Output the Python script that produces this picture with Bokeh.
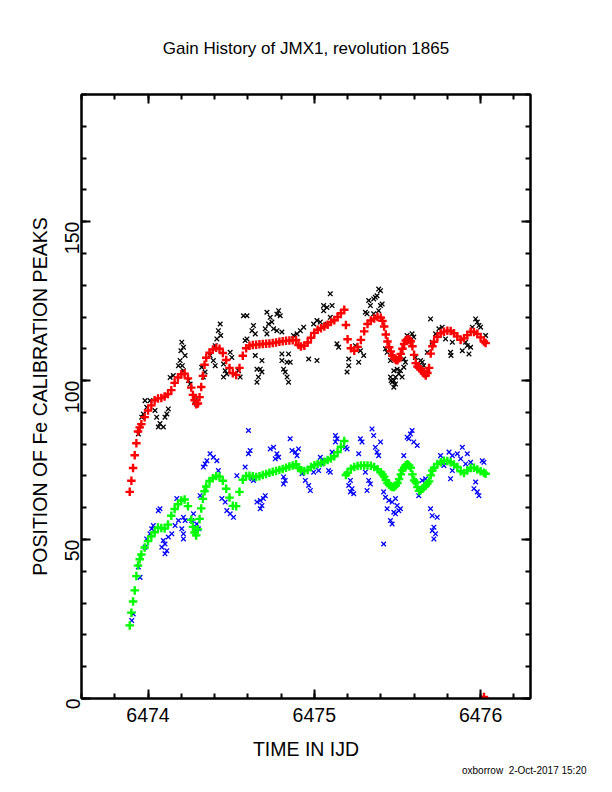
import math
from bokeh.plotting import figure
from bokeh.models import Range1d, LinearAxis, SingleIntervalTicker, Title, CustomJSTickFormatter
from bokeh.embed import file_html
from bokeh.resources import INLINE

# ---------------- data ----------------
title_text = "Gain History of JMX1, revolution 1865"
x_label = "TIME IN IJD"
y_label = "POSITION OF Fe CALIBRATION PEAKS"
footer_text = "oxborrow\u00a0\u00a02-Oct-2017 15:20"

fit_t = [6473.89, 6473.90, 6473.91, 6473.92, 6473.93, 6473.94, 6473.95, 6473.96, 6473.98,
         6474.00, 6474.02, 6474.04, 6474.06, 6474.08, 6474.10, 6474.12, 6474.14, 6474.16,
         6474.18, 6474.20, 6474.22, 6474.24, 6474.26,
         6474.27, 6474.28, 6474.29, 6474.30, 6474.31, 6474.32, 6474.33, 6474.34, 6474.35,
         6474.37, 6474.39, 6474.41, 6474.43, 6474.45, 6474.47, 6474.49, 6474.51, 6474.53,
         6474.55, 6474.57, 6474.59,
         6474.61, 6474.63, 6474.65, 6474.67, 6474.69, 6474.71, 6474.73, 6474.75, 6474.77,
         6474.79, 6474.81, 6474.83, 6474.85, 6474.87, 6474.89,
         6474.905, 6474.92, 6474.94, 6474.96, 6474.98,
         6475.00, 6475.02, 6475.04, 6475.06, 6475.08, 6475.10, 6475.12, 6475.14, 6475.16, 6475.18,
         6475.19, 6475.20, 6475.22, 6475.24, 6475.26, 6475.28, 6475.30, 6475.32, 6475.34,
         6475.36, 6475.38, 6475.40,
         6475.41, 6475.42, 6475.43, 6475.44, 6475.45, 6475.46, 6475.47, 6475.48, 6475.49,
         6475.50, 6475.51, 6475.52, 6475.53, 6475.54, 6475.55, 6475.56, 6475.57, 6475.58,
         6475.59, 6475.60, 6475.61, 6475.62, 6475.63, 6475.64, 6475.65, 6475.66, 6475.67,
         6475.68, 6475.69, 6475.70, 6475.71, 6475.72,
         6475.74, 6475.76, 6475.78, 6475.80, 6475.82, 6475.84, 6475.86, 6475.88, 6475.90,
         6475.92, 6475.94, 6475.96, 6475.98, 6476.00, 6476.02, 6476.03]

fit_hi = [65.0, 68.5, 72.5, 76.5, 80.3, 84.0, 85.3, 86.3, 88.5,
          90.6, 92.2, 93.8, 94.4, 94.5, 95.0, 95.8, 97.0, 99.3, 101.0, 102.0, 102.2, 100.7, 97.8,
          95.5, 93.8, 92.6, 92.8, 94.8, 98.0, 101.5, 105.0, 107.2,
          108.8, 109.8, 110.3, 110.0, 108.7, 106.5, 104.0, 102.3, 101.8, 104.0, 107.8, 110.2,
          111.0, 111.2, 111.3, 111.4, 111.5, 111.6, 111.7, 111.8, 112.0, 112.2, 112.4, 112.5,
          112.6, 112.7, 112.8,
          111.2, 110.7, 111.0, 112.0, 113.5,
          115.0, 116.0, 116.5, 117.0, 117.6, 118.4, 119.0, 120.0, 121.2, 122.3,
          117.5, 113.0, 110.2, 109.4, 110.6, 112.8, 115.5, 117.8, 118.9, 119.5, 120.0, 119.8,
          118.8, 117.0, 114.5, 112.3, 110.5, 109.2, 107.8, 107.0, 106.5, 106.4, 107.0, 108.4,
          110.0, 111.5, 112.6, 113.0, 112.9, 112.4, 110.8, 108.1, 105.5, 104.4, 104.0, 103.6,
          103.0, 102.2, 101.6, 102.4, 104.0, 108.5, 110.8, 112.2,
          113.8, 114.9, 115.4, 115.7, 115.6, 114.9, 113.9, 112.8, 113.3, 114.3, 115.4, 115.3,
          114.7, 113.6, 112.3, 111.8]

fit_lo = [23.0, 27.0, 30.5, 34.0, 38.5, 41.8, 43.8, 45.3, 47.5,
          49.5, 51.0, 52.3, 53.8, 53.6, 53.5, 54.7, 57.5, 59.6, 61.1, 62.3, 62.6, 60.5, 56.2,
          54.0, 52.2, 51.3, 53.2, 56.5, 59.8, 62.8, 65.2, 66.7,
          68.4, 69.3, 70.0, 69.8, 68.5, 66.0, 63.2, 60.6, 60.5, 65.0, 68.8, 70.0,
          70.1, 69.9, 69.7, 69.9, 70.3, 70.6, 71.0, 71.3, 71.6, 71.9, 72.2, 72.6, 73.0, 73.3, 73.7,
          72.5, 71.8, 71.6, 71.9, 72.8,
          73.4, 73.8, 74.1, 74.5, 75.0, 75.5, 76.2, 77.5, 79.2, 81.0,
          70.3, 71.0, 72.3, 72.8, 73.1, 73.3, 73.3, 73.3, 73.2, 72.8, 72.1, 71.2,
          70.5, 69.8, 68.7, 67.8, 67.2, 66.8, 66.5, 66.5, 67.0, 67.8, 69.0, 70.5, 71.8, 72.6,
          73.4, 73.7, 73.3, 72.6, 70.5, 68.6, 68.0, 66.5, 65.3, 65.6, 66.0, 66.5, 67.0, 67.6,
          68.3, 70.2, 71.7, 72.6,
          73.8, 74.3, 74.8, 74.7, 74.3, 73.6, 72.8, 71.5, 70.9, 71.7, 72.5, 72.6, 72.0, 71.5,
          71.0, 70.7]

# stray upper-fit point near zero
fit_hi_stray = [(6476.02, 0.5)]

# raw upper peak (time, position)
raw_hi = [(6473.942, 83.2), (6473.982, 93.7), (6474.012, 93.7), (6473.992, 91.6), (6473.972, 89.5),
          (6473.962, 88.5), (6474.052, 88.5), (6474.072, 86.5), (6474.062, 85.4), (6474.092, 85.4),
          (6474.102, 88.5), (6474.113, 89.5), (6474.122, 91.1), (6474.042, 90.6), (6474.133, 101.0),
          (6474.152, 101.6), (6474.203, 112.1), (6474.213, 110.5), (6474.198, 109.4), (6474.223, 107.9),
          (6474.193, 106.3), (6474.183, 104.7), (6474.206, 104.7), (6474.213, 103.1), (6474.293, 92.6),
          (6474.283, 93.7), (6474.243, 100.0), (6474.253, 98.9), (6474.323, 104.2), (6474.343, 102.7),
          (6474.333, 101.1), (6474.434, 117.8), (6474.423, 115.7), (6474.414, 113.1), (6474.404, 111.0),
          (6474.437, 114.2), (6474.373, 107.9), (6474.393, 106.3), (6474.404, 104.7), (6474.454, 105.2),
          (6474.464, 103.1), (6474.474, 102.1), (6474.454, 101.1), (6474.494, 108.9), (6474.504, 107.3),
          (6474.544, 103.1), (6474.554, 101.1), (6474.574, 120.4), (6474.595, 120.4), (6474.634, 117.3),
          (6474.625, 115.7), (6474.645, 114.7), (6474.584, 112.6), (6474.595, 113.1), (6474.645, 107.9),
          (6474.685, 106.3), (6474.655, 103.6), (6474.675, 103.6), (6474.685, 102.7), (6474.664, 101.1),
          (6474.655, 99.5), (6474.715, 121.5), (6474.735, 119.9), (6474.725, 117.8), (6474.745, 118.4),
          (6474.705, 116.3), (6474.715, 114.7), (6474.785, 122.0), (6474.795, 120.4), (6474.775, 120.9),
          (6474.755, 116.3), (6474.775, 115.7), (6474.805, 115.3), (6474.805, 108.4), (6474.845, 108.4),
          (6474.805, 106.3), (6474.836, 105.8), (6474.855, 105.8), (6474.815, 103.6), (6474.825, 102.7),
          (6474.836, 101.1), (6474.845, 99.5), (6474.875, 114.2), (6474.896, 114.7), (6474.916, 115.7),
          (6474.936, 116.8), (6474.966, 106.8), (6475.016, 106.3), (6474.996, 117.8), (6475.016, 118.9),
          (6475.036, 118.4), (6475.056, 122.0), (6475.056, 123.6), (6475.076, 123.0), (6475.096, 127.3),
          (6475.107, 123.6), (6475.096, 119.9), (6475.076, 117.8), (6475.136, 111.6), (6475.146, 110.5),
          (6475.207, 106.8), (6475.207, 104.7), (6475.197, 102.7), (6475.247, 111.0), (6475.277, 109.4),
          (6475.297, 107.9), (6475.267, 105.8), (6475.327, 125.2), (6475.337, 123.6), (6475.317, 121.0),
          (6475.307, 121.5), (6475.357, 125.7), (6475.367, 126.2), (6475.387, 128.8), (6475.377, 126.7),
          (6475.398, 123.6), (6475.387, 122.0), (6475.357, 121.0), (6475.428, 110.0), (6475.438, 108.9),
          (6475.458, 106.3), (6475.458, 101.1), (6475.462, 100.0), (6475.398, 128.3), (6475.408, 124.1),
          (6475.478, 103.1), (6475.498, 103.6), (6475.518, 103.1), (6475.508, 102.1), (6475.488, 101.1),
          (6475.478, 100.0), (6475.468, 99.5), (6475.488, 98.9), (6475.478, 97.9), (6475.528, 101.1),
          (6475.538, 104.2), (6475.548, 105.8), (6475.538, 106.8), (6475.558, 114.2), (6475.588, 114.7),
          (6475.598, 113.7), (6475.608, 107.3), (6475.619, 105.2), (6475.639, 106.3), (6475.649, 105.8),
          (6475.658, 104.7), (6475.649, 103.1), (6475.669, 102.7), (6475.699, 119.4), (6475.679, 108.9),
          (6475.709, 112.1), (6475.729, 114.7), (6475.749, 116.3), (6475.769, 116.8), (6475.789, 113.1),
          (6475.830, 112.1), (6475.819, 108.9), (6475.822, 107.9), (6475.890, 109.4), (6475.910, 112.1),
          (6475.920, 111.0), (6475.940, 110.5), (6475.930, 108.4), (6475.970, 119.4), (6475.980, 118.4),
          (6475.990, 117.3), (6476.000, 116.8), (6475.950, 116.8), (6476.030, 114.2)]

# raw lower peak (time, position)
raw_lo = [(6474.604, 84.3), (6474.072, 59.7), (6474.062, 59.1), (6474.032, 54.4), (6474.022, 53.4),
          (6474.012, 51.8), (6473.992, 50.2), (6473.982, 47.6), (6474.092, 49.7), (6474.102, 48.6),
          (6474.083, 47.6), (6474.113, 46.5), (6474.102, 45.5), (6474.122, 50.8), (6474.143, 51.8),
          (6474.163, 54.4), (6474.183, 56.0), (6474.213, 57.0), (6474.223, 56.0), (6474.203, 53.4),
          (6474.213, 51.8), (6474.213, 50.2), (6474.173, 62.9), (6474.273, 58.1), (6474.263, 56.0),
          (6474.293, 54.9), (6474.303, 53.4), (6474.313, 63.8), (6474.343, 73.8), (6474.333, 72.8),
          (6474.354, 74.8), (6474.373, 77.0), (6474.393, 75.9), (6474.414, 74.8), (6474.423, 71.7),
          (6474.444, 62.9), (6474.464, 61.8), (6474.474, 59.1), (6474.494, 58.1), (6474.514, 57.0),
          (6474.534, 70.1), (6474.584, 72.8), (6474.604, 77.0), (6474.614, 78.0), (6474.634, 68.6),
          (6474.625, 69.1), (6474.655, 61.8), (6474.675, 62.3), (6474.685, 60.7), (6474.694, 62.9),
          (6474.705, 63.8), (6474.675, 59.7), (6474.735, 78.5), (6474.755, 79.0), (6474.775, 77.0),
          (6474.765, 75.4), (6473.942, 41.4), (6473.952, 38.1), (6473.902, 24.5), (6473.911, 26.6),
          (6474.785, 75.9), (6474.855, 81.7), (6474.866, 78.0), (6474.886, 77.5), (6474.905, 78.5),
          (6474.896, 76.4), (6474.815, 69.7), (6474.825, 68.6), (6474.815, 67.5), (6474.926, 70.7),
          (6474.946, 68.6), (6474.966, 67.0), (6474.976, 65.4), (6474.996, 71.2), (6475.026, 71.7),
          (6475.046, 73.8), (6475.056, 74.8), (6475.036, 75.9), (6475.086, 71.7), (6475.096, 71.2),
          (6475.107, 77.5), (6475.127, 82.7), (6475.137, 81.7), (6475.127, 80.7), (6475.187, 79.0),
          (6475.197, 78.5), (6475.217, 68.6), (6475.207, 67.0), (6475.227, 66.0), (6475.217, 65.0),
          (6475.237, 64.4), (6475.267, 77.0), (6475.277, 81.7), (6475.287, 80.7), (6475.307, 71.2),
          (6475.327, 68.6), (6475.337, 67.5), (6475.317, 65.4), (6475.347, 84.8), (6475.357, 82.7),
          (6475.367, 79.0), (6475.377, 77.5), (6475.398, 80.7), (6475.387, 76.4), (6475.417, 65.0),
          (6475.428, 63.3), (6475.448, 62.3), (6475.438, 59.7), (6475.468, 61.8), (6475.488, 62.9),
          (6475.498, 60.7), (6475.508, 59.1), (6475.478, 58.6), (6475.458, 56.0), (6475.468, 54.9),
          (6475.488, 58.1), (6475.518, 59.7), (6475.417, 48.6), (6475.538, 76.4), (6475.558, 82.2),
          (6475.578, 83.2), (6475.588, 84.3), (6475.568, 81.7), (6475.598, 80.7), (6475.619, 79.6),
          (6475.649, 68.6), (6475.669, 69.1), (6475.679, 67.5), (6475.628, 63.8), (6475.699, 59.7),
          (6475.709, 57.5), (6475.739, 57.0), (6475.719, 53.9), (6475.729, 51.8), (6475.719, 50.2),
          (6475.709, 52.8), (6475.759, 76.4), (6475.779, 73.3), (6475.810, 77.5), (6475.830, 76.4),
          (6475.860, 77.0), (6475.880, 75.4), (6475.890, 79.0), (6475.920, 77.0), (6475.830, 71.7),
          (6475.819, 69.1), (6475.940, 74.3), (6475.910, 73.8), (6475.970, 68.1), (6475.960, 66.0),
          (6475.980, 65.0), (6475.990, 63.8), (6476.020, 74.3), (6476.010, 74.8)]

x_start, x_end = 6473.6, 6476.3
y_start, y_end = 0, 190

# ---------------- figure ----------------
FONT = "Liberation Sans"

p = figure(width=596, height=776, output_backend="svg", toolbar_location=None,
           x_range=Range1d(x_start, x_end), y_range=Range1d(y_start, y_end),
           min_border_left=81, min_border_right=66, min_border_top=94, min_border_bottom=78,
           background_fill_color="white", border_fill_color="white")
p.xgrid.grid_line_color = None
p.ygrid.grid_line_color = None
p.outline_line_color = "black"
p.outline_line_width = 2

p.title.text = title_text
p.title.align = "center"
p.title.text_font = FONT
p.title.text_font_size = "17px"
p.title.text_font_style = "normal"
p.title.text_color = "black"
p.title.standoff = 73


def style_axis(ax, show_labels):
    ax.axis_line_color = "black"
    ax.axis_line_width = 2
    ax.major_tick_line_color = "black"
    ax.major_tick_line_width = 2
    ax.minor_tick_line_color = "black"
    ax.minor_tick_line_width = 2
    ax.major_tick_in = 9
    ax.major_tick_out = 0
    ax.minor_tick_in = 5
    ax.minor_tick_out = 0
    ax.major_label_text_font = FONT
    ax.major_label_text_font_size = "19.5px"
    ax.major_label_text_color = "black"
    ax.axis_label_text_font = FONT
    ax.axis_label_text_font_size = "19.5px"
    ax.axis_label_text_font_style = "normal"
    ax.axis_label_text_color = "black"
    if not show_labels:
        ax.formatter = CustomJSTickFormatter(code="return '';")
        ax.major_label_standoff = 0


xt = SingleIntervalTicker(interval=1, num_minor_ticks=5)
yt = SingleIntervalTicker(interval=50, num_minor_ticks=5)

xa = p.xaxis[0]
xa.ticker = xt
style_axis(xa, True)
xa.axis_label = x_label
xa.major_label_standoff = 9
xa.axis_label_standoff = 13
xa.formatter.use_scientific = False

ya = p.yaxis[0]
ya.ticker = yt
style_axis(ya, True)
ya.axis_label = y_label
ya.major_label_orientation = math.pi / 2
ya.major_label_standoff = 9
ya.axis_label_standoff = 5

top = LinearAxis(ticker=SingleIntervalTicker(interval=1, num_minor_ticks=5))
style_axis(top, False)
p.add_layout(top, "above")
right = LinearAxis(ticker=SingleIntervalTicker(interval=50, num_minor_ticks=5))
style_axis(right, False)
p.add_layout(right, "right")

footer = Title(text=footer_text, align="right", offset=-56, text_font=FONT,
               text_font_size="10px", text_font_style="normal", text_color="black",
               standoff=0)
p.add_layout(footer, "below")

# ---------------- marks ----------------
p.scatter([t for t, v in raw_hi], [v for t, v in raw_hi], marker="x", size=6.5,
          line_color="black", line_width=1.3)
p.scatter([t for t, v in raw_lo], [v for t, v in raw_lo], marker="x", size=6.5,
          line_color="#0000ff", line_width=1.3)
p.scatter(fit_t, fit_hi, marker="cross", size=8.5, line_color="#ff0000", line_width=2.4)
p.scatter([t for t, v in fit_hi_stray], [v for t, v in fit_hi_stray], marker="cross", size=8.5,
          line_color="#ff0000", line_width=2.4)
p.scatter(fit_t, fit_lo, marker="cross", size=8.5, line_color="#00ff00", line_width=2.4)

open("out.html", "w").write(file_html(p, INLINE))
